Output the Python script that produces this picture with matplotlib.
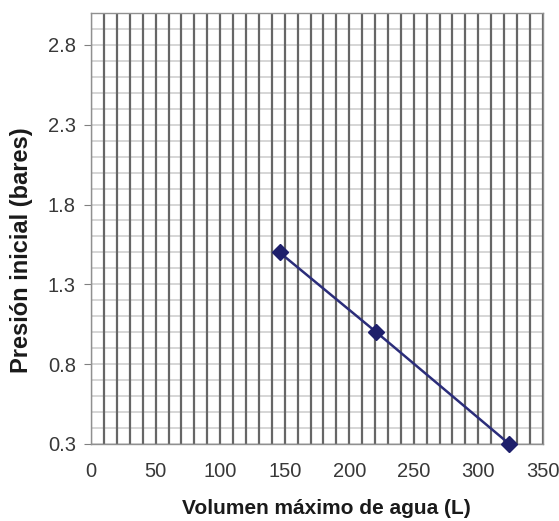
#!/usr/bin/env python3
import numpy as np
import matplotlib
matplotlib.use("Agg")
import matplotlib.pyplot as plt

plt.rcParams['font.family'] = ['Liberation Sans', 'DejaVu Sans']

# ── data ─────────────────────────────────────────────────────────────────────
volumen = [146, 221, 324]          # L
presion = [1.5, 1.0, 0.3]          # bares

x_ticks = [0, 50, 100, 150, 200, 250, 300, 350]
y_ticks = [0.3, 0.8, 1.3, 1.8, 2.3, 2.8]

# ── figure ───────────────────────────────────────────────────────────────────
fig = plt.figure(figsize=(5.59, 5.21), dpi=100)
ax = fig.add_axes([0.163, 0.148, 0.808, 0.827])

ax.set_xlim(0, 350)
ax.set_ylim(0.3, 3.0)

# grid: dark verticals every 10, light horizontals every 0.1
for xv in np.arange(0, 351, 10):
    ax.axvline(xv, color='#666666', lw=1.6, zorder=1)
for yv in np.arange(0.3, 3.01, 0.1):
    ax.axhline(yv, color='#cfcfcf', lw=1.2, zorder=0)

ax.plot(volumen, presion, color='#2b2d7a', lw=1.8, marker='D',
        markersize=8, markerfacecolor='#1e1f6b', markeredgecolor='#1e1f6b',
        zorder=3, clip_on=False)

ax.set_xticks(x_ticks)
ax.set_yticks(y_ticks)
ax.set_yticklabels([f"{v:.1f}" for v in y_ticks])
ax.tick_params(axis='both', labelsize=14.5, colors='#808080', length=5,
               width=0.8, labelcolor='#383838')
ax.tick_params(axis='x', length=0, pad=13)
ax.tick_params(axis='y', pad=6)

for s in ax.spines.values():
    s.set_color('#909090')
    s.set_linewidth(1.0)

ax.set_xlabel("Volumen máximo de agua (L)", fontsize=15, fontweight='bold',
              color='#1a1a1a')
ax.xaxis.set_label_coords(0.52, -0.128)
ax.set_ylabel("Presión inicial (bares)", fontsize=17, fontweight='bold',
              color='#1a1a1a')
ax.yaxis.set_label_coords(-0.128, 0.45)

plt.savefig("out.png", dpi=100)
